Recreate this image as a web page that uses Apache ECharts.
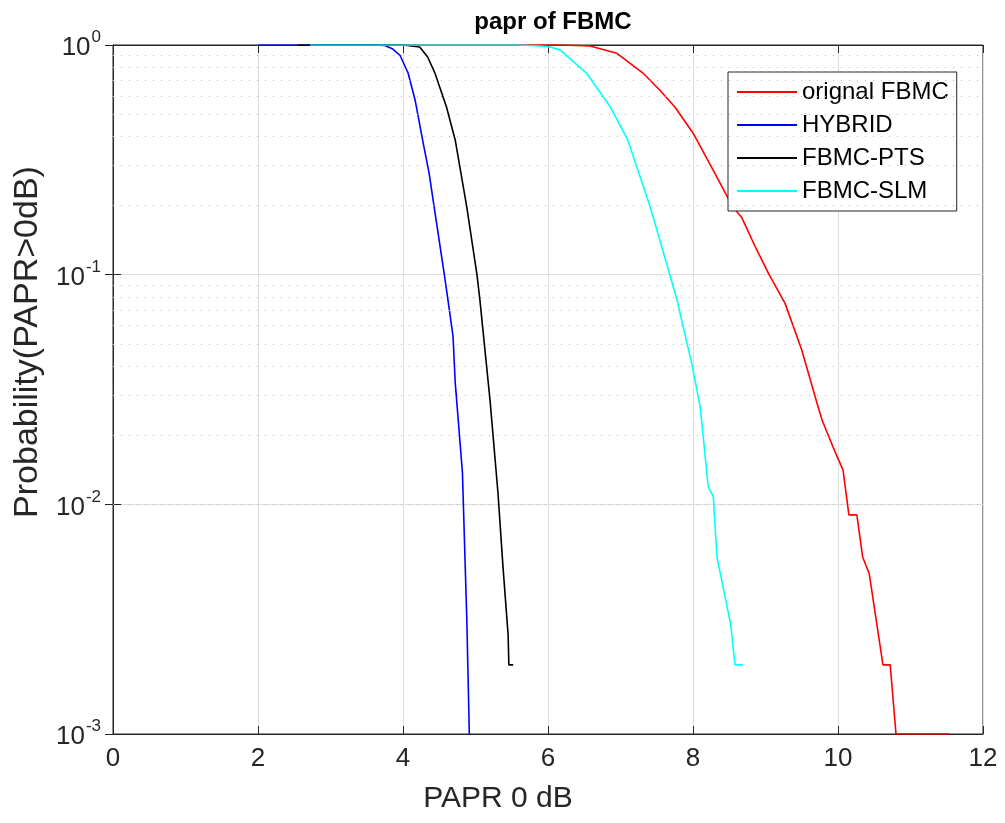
<!DOCTYPE html>
<html>
<head>
<meta charset="utf-8">
<script src="https://cdn.jsdelivr.net/npm/echarts@6/dist/echarts.min.js"></script>
<style>
  html, body { margin: 0; padding: 0; background: #fff; }
  #main { width: 1005px; height: 823px; }
</style>
</head>
<body>
<div id="main"></div>
<script>
// values: PAPR (dB) and CCDF probability for each curve
const orignalX = [2.8, 6.2, 6.58, 6.95, 7.31, 7.54, 7.75, 8.0, 8.3, 8.55, 8.67, 8.86, 9.05, 9.27, 9.5, 9.71, 9.78, 9.93, 10.07, 10.15, 10.26, 10.34, 10.43, 10.62, 10.72, 10.8, 11.54];
const orignalP = [1, 1, 0.99, 0.92, 0.755, 0.637, 0.537, 0.414, 0.277, 0.197, 0.178, 0.132, 0.1, 0.075, 0.047, 0.0276, 0.0233, 0.0178, 0.0141, 0.009, 0.009, 0.0059, 0.005, 0.002, 0.002, 0.001, 0.001];

const hybridX = [2.0, 3.6, 3.75, 3.86, 3.96, 4.07, 4.17, 4.27, 4.36, 4.43, 4.57, 4.62, 4.69, 4.72, 4.82, 4.88, 4.915];
const hybridP = [1, 1, 0.995, 0.96, 0.9, 0.755, 0.57, 0.386, 0.277, 0.197, 0.1, 0.0776, 0.054, 0.034, 0.0137, 0.00316, 0.001];

const ptsX = [2.55, 4.0, 4.23, 4.34, 4.44, 4.6, 4.72, 4.88, 5.02, 5.06, 5.2, 5.31, 5.38, 5.45, 5.46, 5.52];
const ptsP = [1, 1, 0.98, 0.887, 0.755, 0.537, 0.386, 0.197, 0.1, 0.078, 0.0285, 0.0112, 0.0053, 0.0027, 0.002, 0.002];

const slmX = [2.72, 5.6, 5.9, 6.03, 6.17, 6.53, 6.86, 7.1, 7.41, 7.68, 7.78, 7.99, 8.1, 8.21, 8.28, 8.33, 8.52, 8.58, 8.69];
const slmP = [1, 1, 0.99, 0.98, 0.95, 0.755, 0.537, 0.386, 0.197, 0.1, 0.0775, 0.04, 0.0265, 0.0119, 0.0108, 0.0059, 0.003, 0.002, 0.002];

const seriesNames = ['orignal FBMC', 'HYBRID', 'FBMC-PTS', 'FBMC-SLM'];
const seriesColors = ['#ff0000', '#0000ff', '#000000', '#00ffff'];

// minor log grid (2..9 of every decade)
const minorGrid = [];
[0.001, 0.01, 0.1].forEach(d => {
  for (let k = 2; k <= 9; k++) minorGrid.push(+(d * k).toPrecision(3));
});

const pairs = (xs, ps) => xs.map((x, i) => [x, ps[i]]);
const curves = [pairs(orignalX, orignalP), pairs(hybridX, hybridP), pairs(ptsX, ptsP), pairs(slmX, slmP)];

const axisColor = '#262626';
const font = 'Liberation Sans, Arial, Helvetica, sans-serif';

const chart = echarts.init(document.getElementById('main'), null, {renderer: 'canvas'});

const supLabel = v => {
  const e = Math.round(Math.log10(v));
  return '{b|10}{s|' + e + '}';
};

const option = {
  backgroundColor: '#fff',
  animation: false,
  textStyle: {fontFamily: font},
  title: {
    text: 'papr of FBMC',
    left: 548,
    textAlign: 'center',
    top: 5,
    textStyle: {fontSize: 24, fontWeight: 'bold', color: '#000', fontFamily: font},
  },
  grid: {
    left: 113,
    right: 22,
    top: 45,
    bottom: 89,
    show: true,
    borderColor: axisColor,
    borderWidth: 1,
    backgroundColor: '#fff',
  },
  legend: {
    data: seriesNames.map(n => ({name: n, icon: 'rect'})),
    orient: 'vertical',
    left: 728,
    top: 72,
    padding: [8, 8, 8, 9],
    itemWidth: 60,
    itemHeight: 2,
    itemGap: 9,
    backgroundColor: '#fff',
    borderColor: axisColor,
    borderWidth: 1,
    textStyle: {fontSize: 24, lineHeight: 24, color: '#000', fontFamily: font},
  },
  xAxis: [{
    type: 'value',
    min: 0,
    max: 12,
    interval: 2,
    name: 'PAPR 0 dB',
    nameLocation: 'middle',
    nameGap: 50,
    nameTextStyle: {fontSize: 30, color: axisColor, fontFamily: font, padding: [0, 100, 0, 0]},
    axisLine: {show: true, lineStyle: {color: axisColor}},
    axisTick: {show: true, inside: true, length: 8, lineStyle: {color: axisColor}},
    axisLabel: {fontSize: 26, color: axisColor, margin: 12, fontFamily: font},
    splitLine: {show: true, lineStyle: {color: '#dedede', width: 1}},
  }, {
    type: 'value',
    position: 'top',
    min: 0,
    max: 12,
    interval: 2,
    axisLine: {show: true, lineStyle: {color: axisColor}},
    axisTick: {show: true, inside: true, length: 8, lineStyle: {color: axisColor}},
    axisLabel: {show: false},
    splitLine: {show: false},
  }],
  yAxis: [{
    type: 'log',
    logBase: 10,
    min: 0.001,
    max: 1,
    name: 'Probability(PAPR>0dB)',
    nameLocation: 'middle',
    nameGap: 66,
    nameTextStyle: {fontSize: 34, color: axisColor, fontFamily: font, padding: [0, 0, 0, 95]},
    axisLine: {show: true, lineStyle: {color: axisColor}},
    axisTick: {show: true, inside: true, length: 8, lineStyle: {color: axisColor}},
    axisLabel: {
      margin: 12,
      formatter: supLabel,
      rich: {
        b: {fontSize: 26, color: axisColor, fontFamily: font, lineHeight: 26, padding: [6, 0, 0, 0]},
        s: {fontSize: 17, color: axisColor, fontFamily: font, lineHeight: 17, padding: [0, 0, 15, 1]},
      },
    },
    splitLine: {show: true, lineStyle: {color: '#dedede', width: 1}},
  }, {
    type: 'log',
    logBase: 10,
    min: 0.001,
    max: 1,
    position: 'right',
    axisLine: {show: true, lineStyle: {color: axisColor}},
    axisTick: {show: true, inside: true, length: 8, lineStyle: {color: axisColor}},
    axisLabel: {show: false},
    splitLine: {show: false},
  }],
  series: [{
    name: 'minor-grid',
    type: 'line',
    data: [],
    silent: true,
    z: 1,
    markLine: {
      silent: true,
      symbol: 'none',
      label: {show: false},
      animation: false,
      lineStyle: {type: [1, 7], color: '#b4b4b4', width: 1},
      data: minorGrid.map(v => ({yAxis: v})),
    },
  }].concat(curves.map((d, i) => ({
    name: seriesNames[i],
    type: 'line',
    data: d,
    symbol: 'none',
    z: 3 + i,
    lineStyle: {color: seriesColors[i], width: 1.6},
    itemStyle: {color: seriesColors[i]},
  }))),
};

chart.setOption(option);
</script>
</body>
</html>
